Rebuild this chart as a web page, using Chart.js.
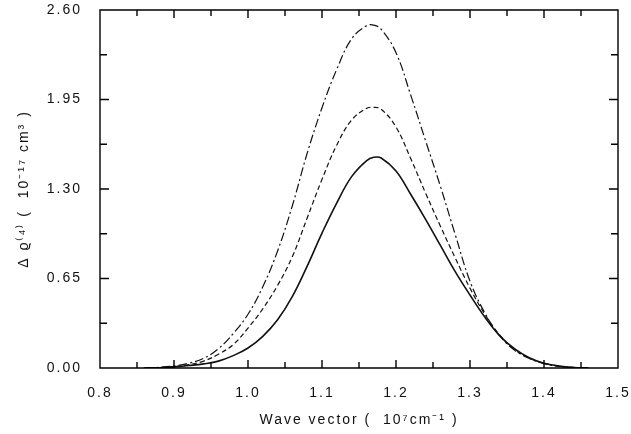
<!DOCTYPE html>
<html>
<head>
<meta charset="utf-8">
<script src="https://cdn.jsdelivr.net/npm/chart.js@4"></script>
<style>
  html, body { margin: 0; padding: 0; background: #fff; }
  #wrap { width: 631px; height: 434px; }
</style>
</head>
<body>
<div id="wrap"><canvas id="rhoChart"></canvas></div>
<script>
// wave vector, 10^7 cm^-1
var waveVector = [0.86, 0.88, 0.90, 0.92, 0.94, 0.96, 0.98, 1.00, 1.02, 1.04, 1.06, 1.08, 1.10, 1.12, 1.14, 1.16, 1.17, 1.18,
                  1.20, 1.22, 1.24, 1.26, 1.28, 1.30, 1.32, 1.34, 1.36, 1.38, 1.40, 1.42, 1.44, 1.46];
var solidCurve = [0, 0.002, 0.008, 0.018, 0.03, 0.05, 0.09, 0.145, 0.23, 0.35, 0.52, 0.74, 0.98, 1.20, 1.39, 1.505, 1.53, 1.525,
                  1.43, 1.26, 1.08, 0.89, 0.70, 0.53, 0.37, 0.235, 0.14, 0.075, 0.035, 0.015, 0.004, 0];
var dashedCurve = [0, 0.003, 0.01, 0.025, 0.05, 0.10, 0.17, 0.29, 0.43, 0.60, 0.81, 1.09, 1.37, 1.62, 1.80, 1.885, 1.893, 1.88,
                   1.75, 1.52, 1.27, 1.03, 0.80, 0.58, 0.39, 0.24, 0.135, 0.072, 0.034, 0.014, 0.004, 0];
var dashDotCurve = [0, 0.005, 0.015, 0.035, 0.07, 0.14, 0.25, 0.39, 0.59, 0.85, 1.18, 1.56, 1.89, 2.17, 2.39, 2.485, 2.49, 2.46,
                    2.29, 1.98, 1.65, 1.32, 0.97, 0.63, 0.40, 0.235, 0.13, 0.07, 0.032, 0.012, 0.003, 0];
var xTicks = [0.8, 0.9, 1.0, 1.1, 1.2, 1.3, 1.4, 1.5];
var yTicks = [0.00, 0.65, 1.30, 1.95, 2.60];

function toPoints(ys) {
    return waveVector.map(function (x, i) { return { x: x, y: ys[i] }; });
}

// wide letter spacing like the typewriter-ish original
var spacing = {
    id: 'spacing',
    beforeDraw: function (chart) { chart.ctx.letterSpacing = '2px'; }
};

// inward ticks on all four sides plus the frame, placed by the scales
var frameTicks = {
    id: 'frameTicks',
    afterDraw: function (chart) {
        var c = chart.ctx;
        var xs = chart.scales.x, ys = chart.scales.y;
        var L = xs.getPixelForValue(0.8), R = xs.getPixelForValue(1.5);
        var B = ys.getPixelForValue(0), T = ys.getPixelForValue(2.6);
        c.save();
        c.setLineDash([]);
        c.strokeStyle = '#000';
        c.lineWidth = 1.4;
        c.beginPath();
        c.moveTo(L, T); c.lineTo(R, T); c.lineTo(R, B); c.lineTo(L, B); c.closePath();
        for (var i = 0; i < xTicks.length * 2 - 1; i++) {
            var px = xs.getPixelForValue(xTicks[0] + i * 0.05);
            var len = (i % 2 === 0) ? 8 : 6;
            c.moveTo(px, B); c.lineTo(px, B - len);
            c.moveTo(px, T); c.lineTo(px, T + len);
        }
        for (var j = 0; j < yTicks.length * 2 - 1; j++) {
            var py = ys.getPixelForValue(j * 0.325);
            var l2 = (j % 2 === 0) ? 9 : 7;
            c.moveTo(L, py); c.lineTo(L + l2, py);
            c.moveTo(R, py); c.lineTo(R - l2, py);
        }
        c.stroke();
        c.restore();
    }
};

var ctx = document.getElementById('rhoChart');

var rhoChart = new Chart(ctx, {
    type: 'line',
    data: {
        datasets: [{
            data: toPoints(solidCurve),
            borderColor: '#111',
            borderWidth: 1.6,
            tension: 0.4
        }, {
            data: toPoints(dashedCurve),
            borderColor: '#111',
            borderWidth: 1.2,
            borderDash: [5, 3],
            tension: 0.4
        }, {
            data: toPoints(dashDotCurve),
            borderColor: '#111',
            borderWidth: 1.2,
            borderDash: [9, 3, 2, 3],
            tension: 0.4
        }]
    },
    options: {
        responsive: true,
        maintainAspectRatio: false,
        animation: false,
        layout: { padding: { left: 0, top: 10, right: 13, bottom: 0 } },
        elements: { point: { radius: 0 } },
        scales: {
            x: {
                type: 'linear',
                min: 0.8,
                max: 1.5,
                afterFit: function (s) { s.height = 66; s.paddingLeft = 0; s.paddingRight = 0; },
                afterBuildTicks: function (s) { s.ticks = xTicks.map(function (v) { return { value: v }; }); },
                grid: { display: false },
                border: { display: false },
                ticks: {
                    color: '#111',
                    padding: 9,
                    font: { family: 'Liberation Sans', size: 14 },
                    callback: function (v) { return v.toFixed(1); }
                },
                title: {
                    display: true,
                    text: 'Wave vector (  10⁷cm⁻¹ )',
                    color: '#111',
                    font: { family: 'Liberation Sans', size: 14 },
                    padding: { top: 4, bottom: 5 }
                }
            },
            y: {
                min: 0,
                max: 2.6,
                afterFit: function (s) { s.width = 100; s.paddingTop = 0; s.paddingBottom = 0; },
                afterBuildTicks: function (s) { s.ticks = yTicks.map(function (v) { return { value: v }; }); },
                grid: { display: false },
                border: { display: false },
                ticks: {
                    color: '#111',
                    padding: 10,
                    font: { family: 'Liberation Sans', size: 14 },
                    callback: function (v) { return v.toFixed(2); }
                },
                title: {
                    display: true,
                    text: 'Δ ϱ⁽⁴⁾ (  10⁻¹⁷ cm³ )',
                    color: '#111',
                    font: { family: 'Liberation Sans', size: 14 },
                    padding: { top: 16, bottom: 4 }
                }
            }
        },
        plugins: {
            legend: { display: false },
            tooltip: { enabled: false }
        }
    },
    plugins: [spacing, frameTicks]
});
</script>
</body>
</html>
